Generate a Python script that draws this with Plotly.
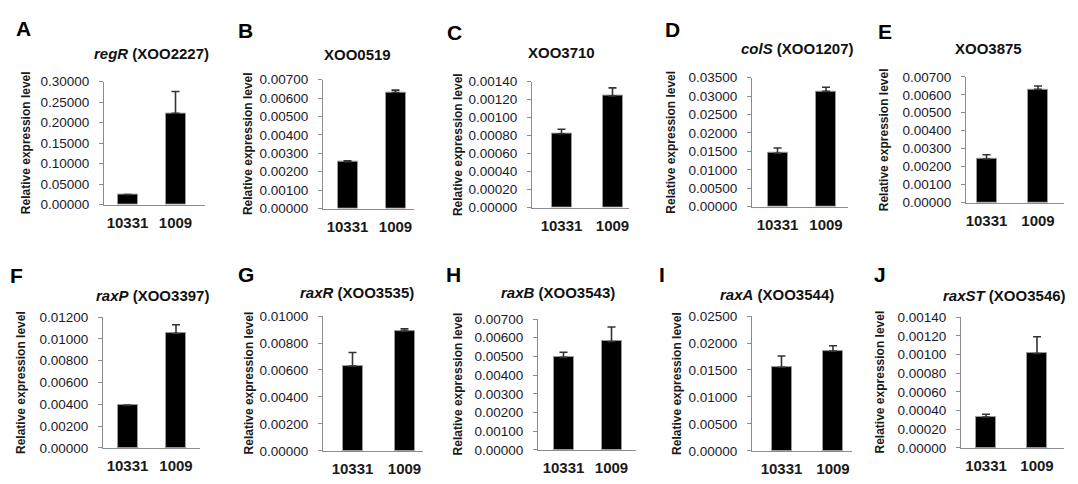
import plotly.graph_objects as go

W, H = 1078, 484

strains = ["10331", "1009"]
panel_letters = ["A", "B", "C", "D", "E", "F", "G", "H", "I", "J"]
gene_titles = [
    "<i>regR</i> (XOO2227)", "XOO0519", "XOO3710", "<i>colS</i> (XOO1207)", "XOO3875",
    "<i>raxP</i> (XOO3397)", "<i>raxR</i> (XOO3535)", "<i>raxB</i> (XOO3543)",
    "<i>raxA</i> (XOO3544)", "<i>raxST</i> (XOO3546)",
]
expr_A = [0.0245, 0.223]; err_A = [0.0, 0.053]
expr_B = [0.00255, 0.0063]; err_B = [0.00005, 0.00013]
expr_C = [0.00082, 0.00124]; err_C = [0.00005, 0.00009]
expr_D = [0.0145, 0.0313]; err_D = [0.0014, 0.0011]
expr_E = [0.00243, 0.0063]; err_E = [0.00024, 0.00019]
expr_F = [0.0039, 0.0105]; err_F = [0.00002, 0.0008]
expr_G = [0.0063, 0.0089]; err_G = [0.001, 0.00015]
expr_H = [0.00495, 0.0058]; err_H = [0.00027, 0.00077]
expr_I = [0.0155, 0.0185]; err_I = [0.0021, 0.001]
expr_J = [0.00033, 0.00101]; err_J = [0.00003, 0.00018]
y_max = [0.30, 0.007, 0.0014, 0.035, 0.007, 0.012, 0.010, 0.007, 0.025, 0.0014]
y_step = [0.05, 0.001, 0.0002, 0.005, 0.001, 0.002, 0.002, 0.001, 0.005, 0.0002]
y_axis_title = "Relative expression level"

expr = [expr_A, expr_B, expr_C, expr_D, expr_E, expr_F, expr_G, expr_H, expr_I, expr_J]
errs = [err_A, err_B, err_C, err_D, err_E, err_F, err_G, err_H, err_I, err_J]

# layout geometry in pixels: axis left, axis right, top, bottom, bar centres,
# y-title x, title (x,y), letter (x,y)
geom = [
    (104, 205, 77, 204, (127.5, 175.5), 26, (151, 48), (23, 22)),
    (323, 414, 75, 208, (347.5, 395.5), 248, (357.5, 49), (245, 24)),
    (532, 629, 77, 207, (561.5, 612.5), 457.5, (561, 47), (454, 26)),
    (752, 848, 73, 206, (777.5, 826), 671.5, (797, 43), (672, 23)),
    (966, 1064, 72, 202, (986.5, 1038), 883.5, (988, 43), (885, 25)),
    (103, 200, 320, 455, (127.5, 176), 21.5, (152, 298), (16, 277)),
    (323, 423, 319, 458, (352.5, 404.5), 249, (357, 295), (246, 276)),
    (538, 636, 322, 457, (563.5, 611.5), 458, (558, 295), (453, 276)),
    (752, 852, 319, 458, (781.5, 833), 677.5, (777, 297), (662, 276)),
    (961, 1064, 320, 455, (986, 1037), 880, (1004, 298), (880, 276)),
]

FONT = "Arial, Liberation Sans, sans-serif"
fig = go.Figure()
annotations = []
BAR_PX = 20

for i in range(10):
    L, R, T, B, (c0, c1), ytx, (tx, ty), (lx, ly) = geom[i]
    unit = c1 - c0
    r0 = -(c0 - L) / unit
    r1 = 1 + (R - c1) / unit
    n = "" if i == 0 else str(i + 1)
    xa, ya = "x" + n, "y" + n
    fig.add_trace(go.Bar(
        x=[0, 1], y=expr[i], xaxis=xa, yaxis=ya, width=BAR_PX / unit,
        marker=dict(color="black", line=dict(color="#9a9a9a", width=1)),
        error_y=dict(type="data", array=errs[i], arrayminus=[0, 0], symmetric=False,
                     color="#333333", thickness=1.6, width=4),
        showlegend=False, hoverinfo="skip",
    ))
    fig.layout["xaxis" + n] = dict(
        domain=[L / W, R / W], anchor=ya, range=[r0, r1],
        tickmode="array", tickvals=[0, 1], ticktext=strains,
        showline=True, linecolor="#8c8c8c", linewidth=1.2, ticks="",
        showgrid=False, zeroline=False, ticklabelstandoff=4,
        tickfont=dict(family=FONT, size=15, color="#1a1a1a", weight="bold"),
        fixedrange=True,
    )
    fig.layout["yaxis" + n] = dict(
        domain=[1 - B / H, 1 - T / H], anchor=xa, range=[0, y_max[i]],
        dtick=y_step[i], tick0=0, tickformat=".5f",
        showline=True, linecolor="#8c8c8c", linewidth=1.2,
        ticks="outside", ticklen=4, tickcolor="#8c8c8c", tickwidth=1,
        showgrid=False, zeroline=False, ticklabelstandoff=7,
        tickfont=dict(family=FONT, size=13.5, color="#1a1a2a"),
        fixedrange=True,
    )
    annotations.append(dict(
        text=y_axis_title, textangle=-90, xref="paper", yref="paper",
        x=ytx / W, y=1 - ((T + B) / 2) / H, xanchor="center", yanchor="middle",
        showarrow=False, font=dict(family=FONT, size=12, color="#1a1a1a", weight="bold"),
    ))
    annotations.append(dict(
        text="<b>" + gene_titles[i] + "</b>", xref="paper", yref="paper",
        x=tx / W, y=1 - ty / H, xanchor="center", yanchor="middle",
        showarrow=False, font=dict(family=FONT, size=15, color="#111111"),
    ))
    annotations.append(dict(
        text="<b>" + panel_letters[i] + "</b>", xref="paper", yref="paper",
        x=lx / W, y=1 - ly / H, xanchor="center", yanchor="middle",
        showarrow=False, font=dict(family=FONT, size=21, color="#000000"),
    ))

fig.update_layout(
    width=W, height=H, margin=dict(l=0, r=0, t=0, b=0),
    paper_bgcolor="white", plot_bgcolor="white",
    annotations=annotations, bargap=0,
)

fig.write_html("out.html", config={"displayModeBar": False},
               post_script="document.body.style.margin='0';document.body.style.padding='0';")
